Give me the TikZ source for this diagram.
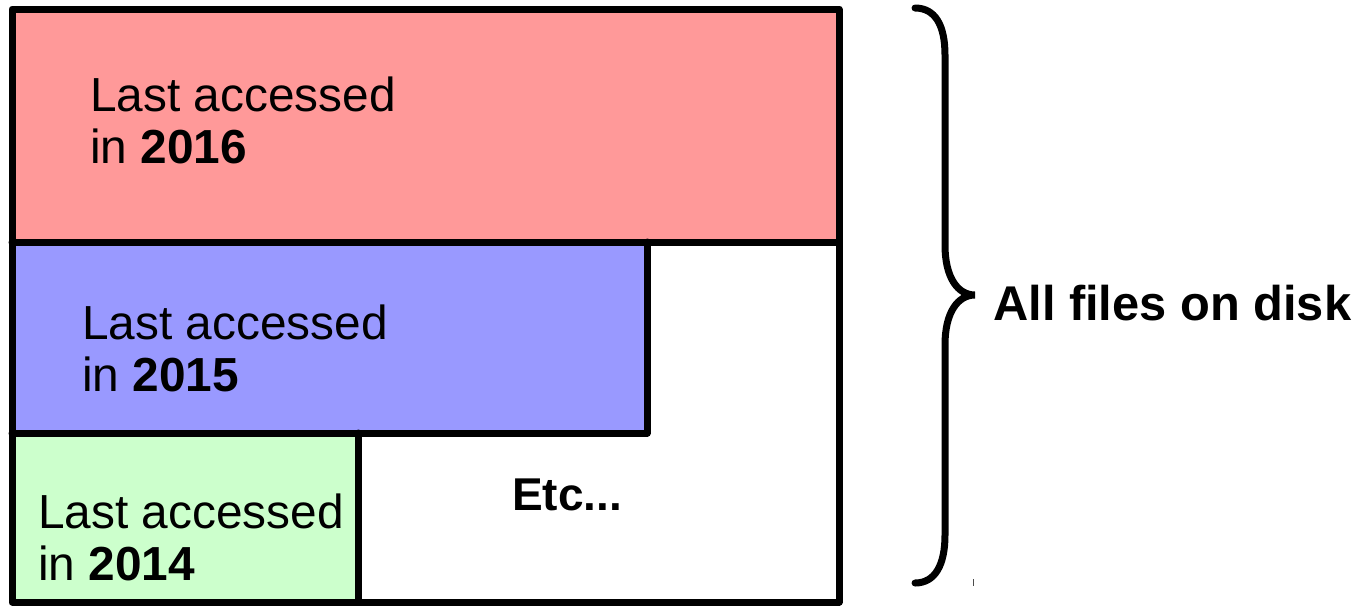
\documentclass[tikz,border=0pt]{standalone}
\usepackage{fontspec}
\setmainfont{Liberation Sans}
\definecolor{redfill}{HTML}{FF9999}
\definecolor{bluefill}{HTML}{9999FF}
\definecolor{greenfill}{HTML}{CCFFCC}
\begin{document}
\begin{tikzpicture}[x=1pt,y=-1pt,
  border/.style={line width=7pt, line join=round, line cap=round},
  lbl/.style={inner sep=0pt, align=left, anchor=base west, font=\fontsize{47.8}{52}\selectfont},
  bracestyle/.style={line width=7pt, line cap=round}]
\useasboundingbox (0,0) rectangle (1354,606);
% fills
\fill[redfill] (12,9) rectangle (839,242);
\fill[bluefill] (12,242) rectangle (647,433);
\fill[greenfill] (12,433) rectangle (358,602);
% borders
\draw[border] (12,9) rectangle (839,602);
\draw[border] (12,242) -- (839,242);
\draw[border] (647,242) -- (647,433) -- (12,433);
\draw[border] (358,433) -- (358,602);
% labels (anchor is baseline of last line)
\node[lbl] (t16) at (90,163) {Last accessed\\in \textbf{2016}};
\node[lbl] (t15) at (82,391) {Last accessed\\in \textbf{2015}};
\node[lbl] (t14) at (38,580) {Last accessed\\in \textbf{2014}};
\node[lbl, font=\fontsize{46}{52}\selectfont] (etc) at (512,510) {\textbf{Etc...}};
% brace
\draw[bracestyle] (915,8) .. controls (935,8) and (945,25) .. (945,55)
  -- (945,245) .. controls (945,278) and (958,295) .. (975,295)
  .. controls (958,295) and (945,312) .. (945,345)
  -- (945,535) .. controls (945,565) and (935,583) .. (915,583);
\coordinate (tip) at (975,295);
\node[lbl, font=\fontsize{48.8}{52}\selectfont] (all) at (993,320) {\textbf{All files on disk}};
\draw[line width=1pt, black!70] (973,579) -- (973,586);
\end{tikzpicture}
\end{document}
